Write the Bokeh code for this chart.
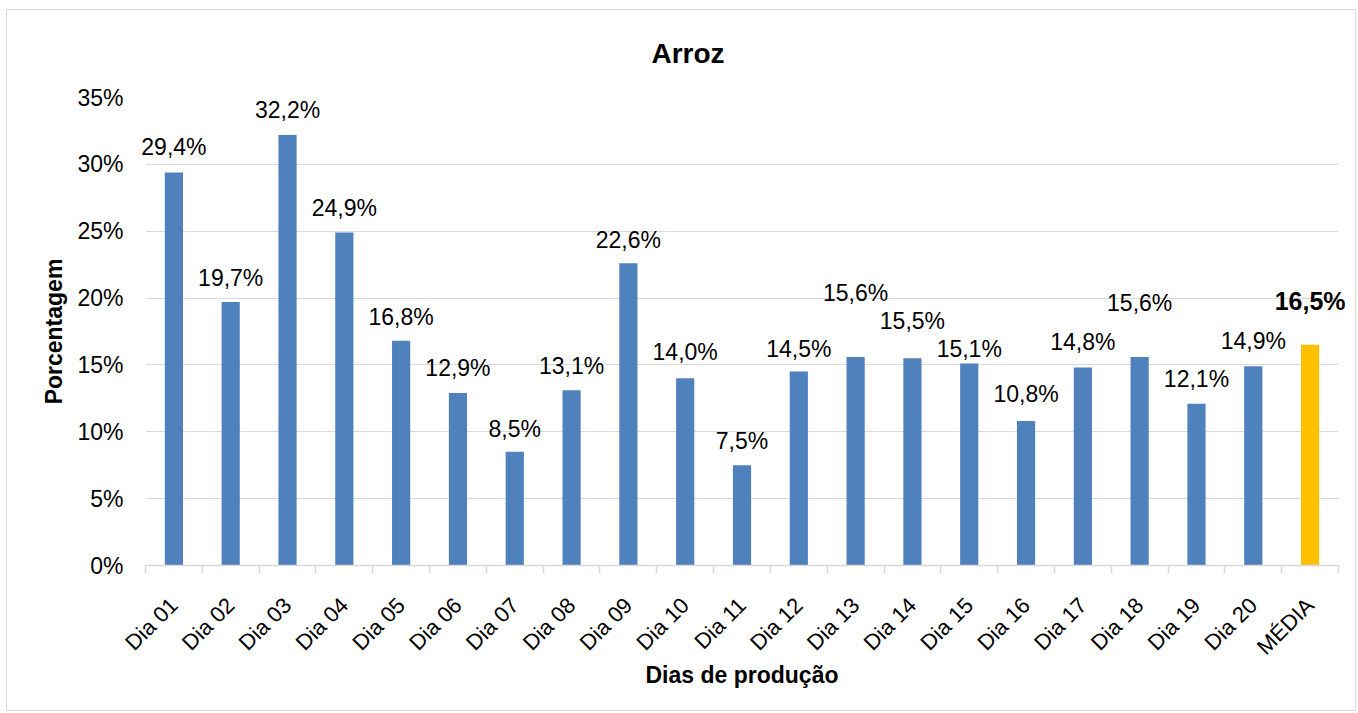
import math
from bokeh.plotting import figure
from bokeh.models import ColumnDataSource, Range1d, FixedTicker
from bokeh.core.properties import field, value
from bokeh.embed import file_html
from bokeh.resources import INLINE

categories = ["Dia 01", "Dia 02", "Dia 03", "Dia 04", "Dia 05", "Dia 06", "Dia 07",
              "Dia 08", "Dia 09", "Dia 10", "Dia 11", "Dia 12", "Dia 13", "Dia 14",
              "Dia 15", "Dia 16", "Dia 17", "Dia 18", "Dia 19", "Dia 20", "MÉDIA"]
values = [29.4, 19.7, 32.2, 24.9, 16.8, 12.9, 8.5, 13.1, 22.6, 14.0, 7.5,
          14.5, 15.6, 15.5, 15.1, 10.8, 14.8, 15.6, 12.1, 14.9, 16.5]
y_ticks = [0, 5, 10, 15, 20, 25, 30, 35]
y_tick_labels = ["0%", "5%", "10%", "15%", "20%", "25%", "30%", "35%"]

# styling (label lift in screen pixels above each bar)
label_lift = [25, 24, 25, 25, 24, 25, 23, 24, 23, 26, 24,
              23, 64, 37, 15, 27, 26, 54, 25, 25, 44]
BLUE = "#4F81BD"
GOLD = "#FFC000"
FONT = "Liberation Sans"

n = len(categories)
xs = [i + 0.5 for i in range(n)]
colors = [BLUE] * (n - 1) + [GOLD]
texts = [("%.1f" % v).replace(".", ",") + "%" for v in values]
styles = ["normal"] * (n - 1) + ["bold"]
sizes = ["23px"] * (n - 1) + ["25px"]

src = ColumnDataSource(dict(x=xs, y=values, color=colors, text=texts,
                            dy=[-d for d in label_lift], style=styles, size=sizes))

p = figure(width=1350, height=702, output_backend="svg", toolbar_location=None,
           x_range=Range1d(0, n), y_range=Range1d(0, 35),
           min_border_left=138, min_border_right=19, min_border_top=87,
           min_border_bottom=147, title="Arroz")
p.margin = (9, 0, 0, 6)
p.styles = {"border": "1px solid #d9d9d9"}

p.title.text_font = FONT
p.title.text_font_size = "28px"
p.title.text_font_style = "bold"
p.title.text_color = "#000000"
p.title.align = "left"
p.title.offset = 506
p.title.vertical_align = "top"
p.title.standoff = 53

p.outline_line_color = None
p.background_fill_color = "white"
p.border_fill_color = "white"

p.vbar(x="x", top="y", width=0.32, bottom=0, color="color", line_color=None, source=src)

p.text(x="x", y="y", text="text", y_offset="dy", source=src, level="overlay",
       text_align="center", text_baseline="middle",
       text_font=value(FONT), text_font_size=field("size"),
       text_font_style=field("style"), text_color="#000000")

# y axis
p.yaxis.ticker = FixedTicker(ticks=y_ticks)
p.yaxis.major_label_overrides = {t: l for t, l in zip(y_ticks, y_tick_labels)}
p.yaxis.axis_line_color = None
p.yaxis.major_tick_line_color = None
p.yaxis.minor_tick_line_color = None
p.yaxis.major_label_standoff = 16
p.yaxis.major_label_text_font = FONT
p.yaxis.major_label_text_font_size = "23px"
p.yaxis.major_label_text_color = "#000000"
p.yaxis.axis_label = "Porcentagem"
p.yaxis.axis_label_text_font = FONT
p.yaxis.axis_label_text_font_size = "23px"
p.yaxis.axis_label_text_font_style = "bold"
p.yaxis.axis_label_text_color = "#000000"
p.yaxis.axis_label_standoff = 7

p.ygrid.grid_line_color = "#d9d9d9"
p.ygrid.grid_line_width = 1.2
p.xgrid.grid_line_color = None

# x axis: labels at bar centres, ticks between categories
p.xaxis.ticker = FixedTicker(ticks=xs, minor_ticks=list(range(n + 1)))
p.xaxis.major_label_overrides = {x: c for x, c in zip(xs, categories)}
p.xaxis.major_tick_line_color = None
p.xaxis.major_tick_out = 0
p.xaxis.major_tick_in = 0
p.xaxis.minor_tick_out = 8
p.xaxis.minor_tick_in = 0
p.xaxis.minor_tick_line_color = "#d9d9d9"
p.xaxis.minor_tick_line_width = 1.5
p.xaxis.axis_line_color = "#d9d9d9"
p.xaxis.axis_line_width = 1.5
p.xaxis.major_label_orientation = math.pi / 4
p.xaxis.major_label_standoff = 28
p.xaxis.major_label_text_font = FONT
p.xaxis.major_label_text_font_size = "22px"
p.xaxis.major_label_text_color = "#000000"
p.xaxis.axis_label = "Dias de produção"
p.xaxis.axis_label_text_font = FONT
p.xaxis.axis_label_text_font_size = "23px"
p.xaxis.axis_label_text_font_style = "bold"
p.xaxis.axis_label_text_color = "#000000"
p.xaxis.axis_label_standoff = -9

open("out.html", "w").write(file_html(p, INLINE))
